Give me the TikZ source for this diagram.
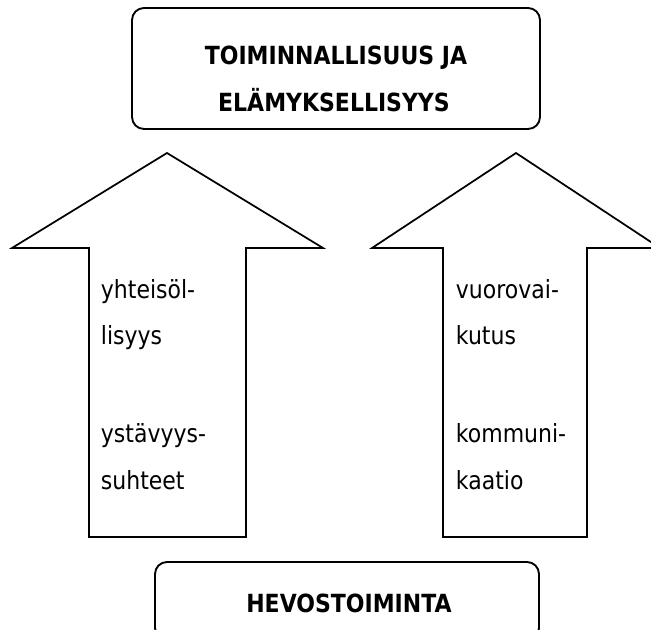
\documentclass[tikz,border=0pt]{standalone}
\usepackage{fontspec}
\setmainfont[FakeStretch=0.88]{DejaVu Sans}
\begin{document}
\begin{tikzpicture}[x=0.75pt,y=-0.75pt,line width=1.4pt,line join=miter,
  roundbox/.style={draw,rounded corners=9pt,inner sep=0pt},
  blockarrow/.style={draw,line width=1.3pt},
  lbl/.style={inner sep=0pt,anchor=base west,font=\fontsize{18.75pt}{22pt}\selectfont},
  head/.style={inner sep=0pt,anchor=base,font=\fontsize{18.75pt}{22pt}\selectfont\bfseries}]
\useasboundingbox (0,0) rectangle (651,630);
\clip (0,0) rectangle (651,630);
% top box
\node[roundbox,minimum width=306pt,minimum height=90.75pt] (top) at (336,68.5) {};
\node[head] (t1) at (336,65) {TOIMINNALLISUUS JA};
\node[head] (t2) at (334,112) {ELÄMYKSELLISYYS};
% bottom box
\node[roundbox,minimum width=288pt,minimum height=58.5pt] (bot) at (347,601) {};
\node[head] (b1) at (349,613) {HEVOSTOIMINTA};
% left arrow
\draw[blockarrow] (167,153) -- (323,248) -- (246,248) -- (246,537) -- (89,537) -- (89,248) -- (12,248) -- cycle;
% right arrow
\draw[blockarrow] (516,153) -- (660,248) -- (587,248) -- (587,537) -- (443,537) -- (443,248) -- (372,248) -- cycle;
% left texts
\node[lbl] (l1) at (100,299) {yhteisöl-};
\node[lbl] (l2) at (100,345) {lisyys};
\node[lbl] (l3) at (100,443) {ystävyys-};
\node[lbl] (l4) at (100,490) {suhteet};
% right texts
\node[lbl] (r1) at (455,299) {vuorovai-};
\node[lbl] (r2) at (455,345) {kutus};
\node[lbl] (r3) at (455,443) {kommuni-};
\node[lbl] (r4) at (455,490) {kaatio};
\end{tikzpicture}
\end{document}
